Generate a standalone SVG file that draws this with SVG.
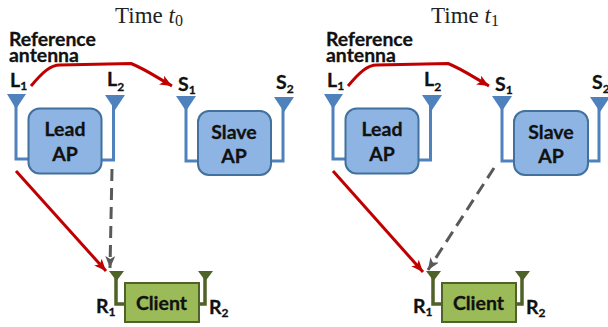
<svg xmlns="http://www.w3.org/2000/svg" width="608" height="327" viewBox="0 0 608 327">
<style>
.t{font-family:"Liberation Serif",serif;font-size:23px;fill:#222}
.l{font-family:Lato,"Open Sans",sans-serif;font-weight:700;fill:#111;stroke:#111;stroke-width:.3;text-anchor:middle}
.b{font-size:19.500px}
.a{font-size:19.400px;text-anchor:start}
.s{font-size:19.500px;text-anchor:start}
.st{fill:none;stroke:#4f81bd;stroke-width:3}
.ap{fill:#8eb4e3;stroke:#41719c;stroke-width:2}
.ant{fill:#4f81bd}
.cl{fill:#9bbb59;stroke:#4f6228;stroke-width:2}
.cs{fill:none;stroke:#4f6228;stroke-width:3.500}
.ca{fill:#4f6228}
.red{fill:none;stroke:#c00000;stroke-width:3}
.da{fill:none;stroke:#595959;stroke-width:3;stroke-dasharray:12 7}
</style>
<defs>
<marker id="mr" markerUnits="userSpaceOnUse" markerWidth="14" markerHeight="12" refX="12" refY="5" orient="auto"><path d="M0 0L12 5L0 10L3 5Z" fill="#c00000"/></marker>
<marker id="mg" markerUnits="userSpaceOnUse" markerWidth="14" markerHeight="12" refX="12" refY="5" orient="auto"><path d="M0 0L12 5L0 10L3 5Z" fill="#595959"/></marker>
</defs>
<text class="t" x="115" y="23">Time <tspan font-style="italic">t</tspan><tspan font-size="16" dy="3">0</tspan></text>
<text class="t" x="431" y="23">Time <tspan font-style="italic">t</tspan><tspan font-size="16" dy="3">1</tspan></text>
<g id="ref-left"><text class="l a"><tspan x="9" y="46">Reference</tspan><tspan x="9" y="62">antenna</tspan></text></g>
<g id="ref-right"><text class="l a"><tspan x="326" y="46">Reference</tspan><tspan x="326" y="62">antenna</tspan></text></g>
<g id="connectors">
<path class="red" d="M31 86C42 73 50 65 60 65L131 63.500C145 69 158 78 172 86" marker-end="url(#mr)"/>
<path class="red" d="M16 171L106 271" marker-end="url(#mr)"/>
<path class="da" d="M112 169L110 268" marker-end="url(#mg)"/>
<path class="red" d="M348 86C359 73 367 65 377 65L448 63.500C462 69 475 78 489 86" marker-end="url(#mr)"/>
<path class="red" d="M333 171L423 272" marker-end="url(#mr)"/>
<path class="da" d="M494 168L428 270" marker-end="url(#mg)"/>
</g>
<g id="lead-ap-0"><path class="st" d="M16 105V159H29M102 160H113.500V105"/><path class="ant" d="M7 94H26L16 109Z"/><path class="ant" d="M105 95H125L115 110Z"/><rect class="ap" x="28.500" y="108.500" width="73" height="65" rx="11"/><text class="l b" x="65" y="136">Lead</text><text class="l b" x="65" y="161">AP</text><text class="l s" x="10" y="87">L<tspan font-size="12" dy="3">1</tspan></text><text class="l s" x="107" y="86">L<tspan font-size="12" dy="5">2</tspan></text></g>
<g id="slave-ap-0"><path class="st" d="M186 108V161H198M271 161H283V108"/><path class="ant" d="M176 96H196L186 111Z"/><path class="ant" d="M274 97H294L284 112Z"/><rect class="ap" x="198" y="111" width="73" height="64" rx="11"/><text class="l b" x="234" y="139">Slave</text><text class="l b" x="234" y="163">AP</text><text class="l s" x="178" y="91">S<tspan font-size="12" dy="3">1</tspan></text><text class="l s" x="276" y="89">S<tspan font-size="12" dy="4">2</tspan></text></g>
<g id="client-0"><path class="cs" d="M116 278V304H125M198 304H205V278"/><path class="ca" d="M109 271H124L116.500 281Z"/><path class="ca" d="M198 271H213L205.500 281Z"/><rect class="cl" x="125" y="283" width="74" height="39"/><text class="l b" x="161.500" y="310">Client</text><text class="l s" x="96" y="313">R<tspan font-size="12" dy="3">1</tspan></text><text class="l s" x="209" y="314">R<tspan font-size="12" dy="3">2</tspan></text></g>
<g id="lead-ap-1"><path class="st" d="M333 105V159H346M419 160H430.500V105"/><path class="ant" d="M324 94H343L333 109Z"/><path class="ant" d="M422 95H442L432 110Z"/><rect class="ap" x="345.500" y="108.500" width="73" height="65" rx="11"/><text class="l b" x="382" y="136">Lead</text><text class="l b" x="382" y="161">AP</text><text class="l s" x="327" y="87">L<tspan font-size="12" dy="3">1</tspan></text><text class="l s" x="424" y="86">L<tspan font-size="12" dy="5">2</tspan></text></g>
<g id="slave-ap-1"><path class="st" d="M502 108V161H514M588 161H599V108"/><path class="ant" d="M492 96H512L502 111Z"/><path class="ant" d="M590 97H610L600 112Z"/><rect class="ap" x="514" y="111" width="74" height="64" rx="11"/><text class="l b" x="551" y="139">Slave</text><text class="l b" x="551" y="163">AP</text><text class="l s" x="495" y="91">S<tspan font-size="12" dy="3">1</tspan></text><text class="l s" x="592" y="89">S<tspan font-size="12" dy="4">2</tspan></text></g>
<g id="client-1"><path class="cs" d="M433 278V304H442M515 304H522V278"/><path class="ca" d="M426 271H441L433.500 281Z"/><path class="ca" d="M515 271H530L522.500 281Z"/><rect class="cl" x="442" y="283" width="74" height="39"/><text class="l b" x="478.500" y="310">Client</text><text class="l s" x="413" y="313">R<tspan font-size="12" dy="3">1</tspan></text><text class="l s" x="526" y="314">R<tspan font-size="12" dy="3">2</tspan></text></g>
</svg>
